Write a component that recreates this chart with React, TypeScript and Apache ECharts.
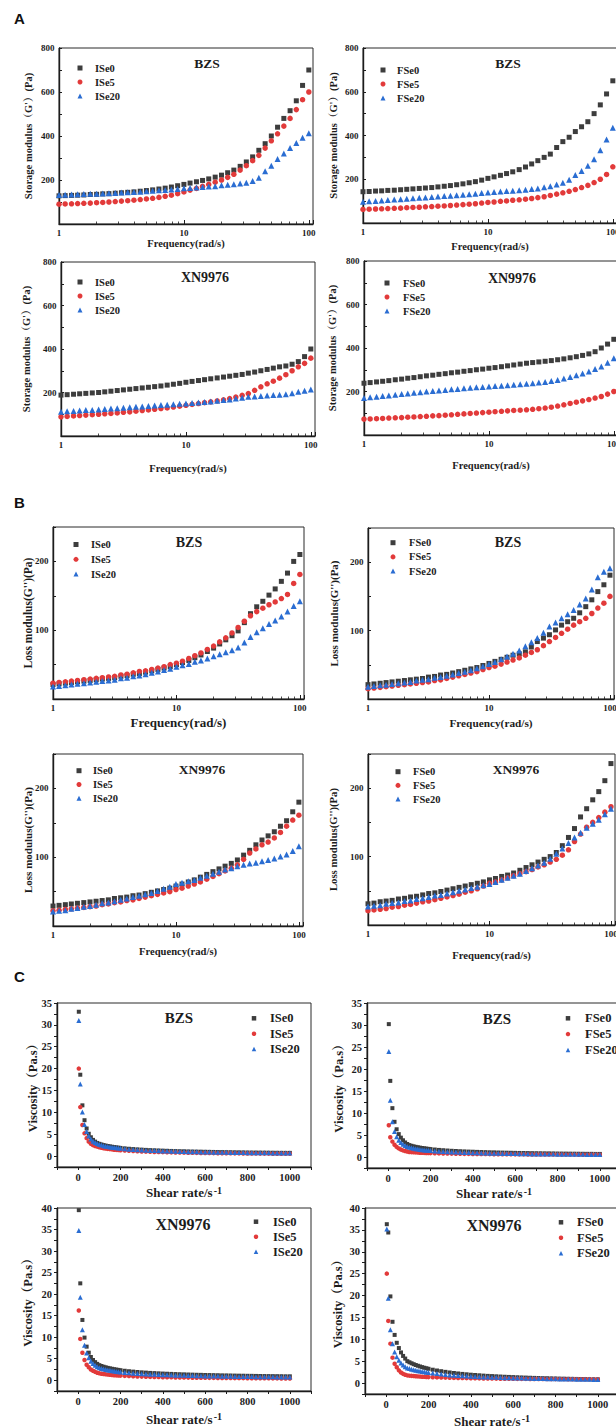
import React, { useEffect, useRef } from 'react';
import * as echarts from 'echarts';

// ---------------- data ----------------
// angular frequency sweep (rad/s), panels A and B
const FREQ = [1, 1.12, 1.26, 1.41, 1.58, 1.78, 2, 2.24, 2.51, 2.82, 3.16, 3.55, 3.98, 4.47, 5.01, 5.62, 6.31, 7.08, 7.94, 8.91, 10, 11.2, 12.6, 14.1, 15.8, 17.8, 20, 22.4, 25.1, 28.2, 31.6, 35.5, 39.8, 44.7, 50.1, 56.2, 63.1, 70.8, 79.4, 89.1, 100];

// A: storage modulus G' (Pa)
const A_BZS_ISE0 = [128, 129, 130, 131, 132, 134, 135, 137, 138, 140, 142, 144, 146, 149, 152, 155, 159, 163, 168, 174, 180, 186, 192, 198, 205, 213, 222, 233, 245, 262, 282, 305, 335, 365, 400, 440, 480, 515, 560, 630, 700];
const A_BZS_ISE5 = [90, 91, 92, 93, 94, 95, 97, 98, 100, 102, 104, 106, 108, 111, 114, 117, 121, 126, 131, 138, 146, 154, 162, 171, 180, 190, 200, 212, 226, 245, 265, 288, 312, 345, 378, 410, 445, 480, 520, 565, 600];
const A_BZS_ISE20 = [132, 133, 134, 135, 136, 137, 138, 139, 140, 141, 143, 144, 146, 147, 149, 151, 153, 155, 157, 159, 162, 164, 166, 168, 170, 172, 176, 178, 181, 184, 188, 196, 210, 240, 265, 295, 320, 345, 368, 392, 412];
const A_BZS_FSE0 = [143, 144, 146, 147, 149, 150, 152, 154, 156, 158, 160, 162, 165, 168, 171, 175, 179, 184, 189, 196, 204, 211, 218, 226, 234, 244, 256, 270, 285, 300, 315, 345, 372, 392, 418, 440, 463, 500, 540, 590, 650];
const A_BZS_FSE5 = [62, 63, 64, 65, 66, 67, 68, 70, 71, 72, 74, 75, 77, 78, 80, 82, 84, 86, 88, 91, 94, 96, 99, 101, 104, 106, 109, 112, 116, 120, 126, 132, 138, 145, 153, 162, 172, 185, 200, 222, 257];
const A_BZS_FSE20 = [97, 99, 101, 103, 105, 107, 109, 111, 113, 115, 117, 119, 121, 123, 125, 127, 129, 131, 134, 137, 140, 142, 144, 146, 148, 150, 152, 155, 158, 163, 168, 176, 184, 198, 220, 238, 262, 292, 333, 382, 435];
const A_XN_ISE0 = [188, 190, 192, 194, 196, 198, 200, 203, 206, 209, 212, 215, 218, 221, 224, 227, 230, 234, 238, 242, 247, 251, 255, 259, 263, 267, 271, 275, 279, 283, 289, 294, 300, 306, 312, 318, 322, 330, 342, 365, 400];
const A_XN_ISE5 = [88, 90, 92, 94, 96, 98, 100, 102, 104, 106, 109, 111, 114, 117, 120, 123, 126, 129, 133, 137, 141, 145, 149, 153, 157, 161, 166, 172, 179, 187, 195, 210, 226, 240, 252, 266, 282, 300, 318, 334, 358];
const A_XN_ISE20 = [112, 114, 115, 117, 119, 120, 122, 124, 126, 128, 130, 132, 134, 136, 138, 140, 142, 144, 146, 148, 150, 152, 154, 156, 159, 162, 165, 168, 172, 176, 180, 182, 184, 186, 188, 190, 192, 197, 203, 208, 214];
const A_XN_FSE0 = [238, 241, 244, 247, 250, 254, 257, 261, 264, 268, 272, 275, 279, 282, 286, 289, 293, 296, 300, 303, 307, 310, 314, 318, 322, 326, 330, 333, 336, 339, 342, 346, 350, 355, 360, 366, 373, 383, 400, 418, 440];
const A_XN_FSE5 = [73, 74, 75, 76, 78, 79, 80, 82, 83, 85, 86, 88, 89, 91, 93, 95, 97, 99, 101, 103, 105, 107, 109, 111, 113, 114, 116, 118, 121, 124, 128, 133, 139, 145, 151, 157, 163, 170, 177, 188, 200];
const A_XN_FSE20 = [170, 173, 176, 179, 182, 185, 188, 191, 194, 197, 200, 202, 205, 207, 210, 212, 215, 217, 219, 221, 223, 225, 227, 229, 231, 233, 236, 238, 241, 244, 248, 253, 260, 267, 275, 283, 292, 303, 315, 332, 353];

// B: loss modulus G'' (Pa)
const B_BZS_ISE0 = [21, 22, 23, 24, 25, 26, 27, 28, 29, 30, 31, 33, 34, 36, 37, 39, 41, 43, 45, 47, 50, 53, 56, 60, 64, 69, 74, 80, 86, 92, 99, 111, 124, 134, 142, 151, 160, 171, 183, 200, 210];
const B_BZS_ISE5 = [23, 24, 25, 26, 27, 28, 29, 30, 31, 32, 33, 35, 36, 38, 40, 41, 43, 45, 47, 50, 52, 55, 59, 63, 67, 72, 77, 83, 89, 96, 104, 113, 121, 127, 132, 137, 141, 146, 152, 168, 181];
const B_BZS_ISE20 = [18, 19, 20, 21, 22, 23, 24, 25, 26, 27, 28, 30, 31, 33, 34, 36, 38, 40, 42, 44, 47, 49, 51, 54, 56, 59, 62, 65, 68, 71, 75, 82, 90, 97, 103, 109, 114, 120, 127, 135, 142];
const B_BZS_FSE0 = [21, 22, 23, 24, 25, 26, 27, 28, 29, 30, 32, 33, 35, 36, 38, 40, 42, 44, 46, 49, 52, 55, 58, 61, 64, 66, 69, 76, 84, 89, 94, 101, 108, 113, 118, 126, 135, 145, 157, 167, 181];
const B_BZS_FSE5 = [15, 16, 17, 18, 19, 20, 21, 22, 23, 24, 25, 27, 28, 30, 32, 34, 36, 38, 40, 43, 46, 48, 51, 54, 57, 60, 64, 68, 72, 78, 84, 90, 96, 102, 108, 113, 118, 125, 133, 140, 150];
const B_BZS_FSE20 = [18, 19, 20, 21, 22, 23, 24, 25, 27, 28, 29, 31, 32, 34, 36, 38, 40, 42, 45, 48, 51, 54, 58, 62, 66, 71, 77, 83, 89, 97, 106, 112, 118, 124, 130, 138, 147, 160, 178, 186, 191];
const B_XN_ISE0 = [29, 30, 31, 32, 33, 34, 35, 36, 37, 38, 40, 41, 42, 44, 45, 47, 49, 51, 53, 55, 58, 61, 64, 67, 71, 75, 79, 83, 87, 91, 96, 103, 110, 118, 125, 131, 137, 145, 153, 166, 180];
const B_XN_ISE5 = [22, 23, 24, 25, 26, 27, 28, 29, 31, 32, 34, 35, 37, 38, 40, 42, 44, 46, 48, 50, 53, 55, 58, 61, 64, 68, 72, 76, 80, 84, 89, 97, 106, 112, 118, 122, 128, 136, 145, 154, 161];
const B_XN_ISE20 = [21, 22, 23, 25, 26, 28, 29, 31, 33, 34, 36, 38, 40, 42, 44, 46, 48, 51, 54, 57, 61, 63, 65, 67, 70, 73, 76, 79, 82, 84, 87, 89, 91, 92, 94, 96, 98, 101, 104, 109, 116];
const B_XN_FSE0 = [31, 32, 34, 35, 36, 38, 39, 41, 42, 44, 46, 47, 49, 51, 53, 55, 57, 59, 61, 63, 66, 68, 71, 73, 76, 80, 84, 88, 92, 96, 100, 106, 116, 128, 141, 158, 170, 183, 195, 211, 236];
const B_XN_FSE5 = [21, 22, 23, 24, 26, 27, 29, 30, 32, 34, 35, 37, 39, 41, 43, 45, 48, 50, 53, 57, 61, 63, 66, 69, 72, 75, 78, 81, 85, 88, 92, 96, 102, 110, 122, 133, 143, 150, 157, 165, 173];
const B_XN_FSE20 = [27, 28, 29, 31, 32, 33, 35, 36, 38, 39, 41, 43, 44, 46, 48, 50, 52, 54, 56, 58, 60, 63, 66, 69, 72, 75, 79, 83, 87, 91, 97, 104, 112, 120, 128, 135, 142, 148, 154, 162, 170];

// C: viscosity (Pa.s) vs shear rate (1/s)
const SHEAR = [3, 10, 20, 30, 40, 50, 60, 70, 80, 90, 100, 110, 120, 130, 140, 150, 160, 170, 180, 190, 200, 220, 240, 260, 280, 300, 320, 340, 360, 380, 400, 420, 440, 460, 480, 500, 520, 540, 560, 580, 600, 620, 640, 660, 680, 700, 720, 740, 760, 780, 800, 820, 840, 860, 880, 900, 920, 940, 960, 980, 1000];
const C_BZS_ISE0 = [33, 18.6, 11.6, 8.2, 6.3, 5.1, 4.3, 3.7, 3.3, 3.0, 2.8, 2.65, 2.51, 2.40, 2.30, 2.21, 2.13, 2.05, 1.98, 1.92, 1.86, 1.76, 1.67, 1.60, 1.53, 1.47, 1.41, 1.36, 1.32, 1.28, 1.24, 1.20, 1.17, 1.14, 1.11, 1.09, 1.06, 1.04, 1.02, 1.00, 0.98, 0.96, 0.94, 0.92, 0.91, 0.89, 0.88, 0.86, 0.85, 0.84, 0.82, 0.81, 0.80, 0.79, 0.78, 0.77, 0.76, 0.75, 0.74, 0.73, 0.73];
const C_BZS_ISE5 = [20, 11.2, 7.1, 5.2, 4.1, 3.3, 2.8, 2.5, 2.3, 2.15, 2.0, 1.89, 1.80, 1.71, 1.64, 1.58, 1.52, 1.46, 1.42, 1.37, 1.33, 1.26, 1.20, 1.14, 1.09, 1.05, 1.01, 0.97, 0.94, 0.91, 0.89, 0.86, 0.84, 0.82, 0.80, 0.78, 0.76, 0.74, 0.73, 0.71, 0.70, 0.68, 0.67, 0.66, 0.65, 0.64, 0.63, 0.62, 0.61, 0.60, 0.59, 0.58, 0.57, 0.56, 0.56, 0.55, 0.54, 0.54, 0.53, 0.52, 0.52];
const C_BZS_ISE20 = [31, 16.5, 10.1, 7.2, 5.6, 4.6, 3.9, 3.4, 3.1, 2.85, 2.65, 2.51, 2.38, 2.27, 2.17, 2.09, 2.01, 1.94, 1.88, 1.82, 1.76, 1.67, 1.58, 1.51, 1.45, 1.39, 1.34, 1.29, 1.25, 1.21, 1.17, 1.14, 1.11, 1.08, 1.05, 1.03, 1.00, 0.98, 0.96, 0.94, 0.92, 0.91, 0.89, 0.87, 0.86, 0.85, 0.83, 0.82, 0.80, 0.79, 0.78, 0.77, 0.76, 0.75, 0.74, 0.73, 0.72, 0.71, 0.70, 0.69, 0.69];
const C_BZS_FSE0 = [30.2, 17.3, 11.1, 8.0, 6.3, 5.2, 4.4, 3.8, 3.3, 2.95, 2.7, 2.55, 2.42, 2.31, 2.21, 2.13, 2.05, 1.98, 1.91, 1.85, 1.80, 1.70, 1.61, 1.54, 1.47, 1.41, 1.36, 1.31, 1.27, 1.23, 1.20, 1.16, 1.13, 1.10, 1.07, 1.05, 1.02, 1.00, 0.98, 0.96, 0.94, 0.92, 0.91, 0.89, 0.87, 0.86, 0.85, 0.83, 0.82, 0.81, 0.79, 0.78, 0.77, 0.76, 0.75, 0.74, 0.73, 0.72, 0.72, 0.70, 0.70];
const C_BZS_FSE5 = [7.2, 4.5, 3.5, 2.8, 2.3, 1.95, 1.7, 1.5, 1.35, 1.25, 1.15, 1.11, 1.07, 1.04, 1.01, 0.98, 0.96, 0.94, 0.92, 0.90, 0.88, 0.85, 0.82, 0.80, 0.78, 0.76, 0.74, 0.73, 0.71, 0.70, 0.69, 0.68, 0.67, 0.66, 0.65, 0.64, 0.63, 0.62, 0.62, 0.61, 0.60, 0.60, 0.59, 0.58, 0.58, 0.57, 0.57, 0.56, 0.56, 0.55, 0.55, 0.54, 0.54, 0.53, 0.53, 0.52, 0.52, 0.51, 0.51, 0.50, 0.50];
const C_BZS_FSE20 = [24, 12.9, 8.0, 5.8, 4.6, 3.8, 3.3, 2.9, 2.6, 2.4, 2.2, 2.08, 1.98, 1.89, 1.80, 1.73, 1.67, 1.61, 1.56, 1.51, 1.46, 1.38, 1.32, 1.25, 1.20, 1.15, 1.11, 1.07, 1.04, 1.00, 0.97, 0.95, 0.92, 0.90, 0.88, 0.85, 0.83, 0.82, 0.80, 0.78, 0.77, 0.75, 0.74, 0.73, 0.71, 0.70, 0.69, 0.68, 0.67, 0.66, 0.65, 0.64, 0.63, 0.62, 0.61, 0.61, 0.60, 0.59, 0.58, 0.57, 0.57];
const C_XN_ISE0 = [39.5, 22.5, 14.0, 9.9, 7.8, 6.4, 5.4, 4.7, 4.2, 3.8, 3.5, 3.31, 3.14, 3.00, 2.87, 2.76, 2.66, 2.56, 2.48, 2.40, 2.33, 2.20, 2.09, 2.00, 1.91, 1.83, 1.77, 1.70, 1.65, 1.60, 1.55, 1.51, 1.47, 1.43, 1.39, 1.36, 1.33, 1.30, 1.27, 1.25, 1.22, 1.20, 1.18, 1.16, 1.13, 1.12, 1.10, 1.08, 1.06, 1.05, 1.03, 1.02, 1.00, 0.99, 0.97, 0.96, 0.95, 0.94, 0.93, 0.91, 0.91];
const C_XN_ISE5 = [16.2, 9.6, 6.4, 4.7, 3.6, 3.0, 2.5, 2.2, 1.95, 1.75, 1.6, 1.51, 1.44, 1.37, 1.31, 1.26, 1.21, 1.17, 1.13, 1.10, 1.06, 1.01, 0.96, 0.91, 0.87, 0.84, 0.81, 0.78, 0.75, 0.73, 0.71, 0.69, 0.67, 0.65, 0.64, 0.62, 0.61, 0.59, 0.58, 0.57, 0.56, 0.55, 0.54, 0.53, 0.52, 0.51, 0.50, 0.49, 0.48, 0.48, 0.47, 0.46, 0.46, 0.45, 0.44, 0.44, 0.43, 0.43, 0.42, 0.42, 0.41];
const C_XN_ISE20 = [34.8, 19.3, 11.7, 8.1, 6.3, 5.2, 4.4, 3.9, 3.5, 3.15, 2.9, 2.74, 2.60, 2.49, 2.38, 2.29, 2.20, 2.12, 2.05, 1.99, 1.93, 1.82, 1.73, 1.65, 1.58, 1.52, 1.46, 1.41, 1.37, 1.32, 1.28, 1.25, 1.22, 1.18, 1.15, 1.13, 1.10, 1.08, 1.05, 1.03, 1.01, 0.99, 0.97, 0.96, 0.94, 0.93, 0.91, 0.89, 0.88, 0.87, 0.85, 0.84, 0.83, 0.82, 0.81, 0.80, 0.79, 0.78, 0.77, 0.76, 0.75];
const C_XN_FSE0 = [36.3, 34.4, 19.8, 14.0, 11.0, 9.2, 8.0, 7.0, 6.2, 5.6, 5.0, 4.75, 4.52, 4.31, 4.12, 3.95, 3.79, 3.64, 3.50, 3.38, 3.26, 3.05, 2.87, 2.71, 2.56, 2.42, 2.30, 2.19, 2.09, 2.00, 1.91, 1.84, 1.77, 1.70, 1.64, 1.59, 1.54, 1.49, 1.44, 1.40, 1.36, 1.32, 1.28, 1.25, 1.21, 1.18, 1.15, 1.12, 1.10, 1.07, 1.05, 1.02, 1.00, 0.98, 0.96, 0.94, 0.92, 0.90, 0.88, 0.86, 0.85];
const C_XN_FSE5 = [25, 14.2, 9.0, 5.8, 4.4, 3.6, 2.9, 2.4, 2.1, 1.9, 1.75, 1.69, 1.64, 1.60, 1.56, 1.52, 1.48, 1.45, 1.42, 1.39, 1.36, 1.32, 1.29, 1.26, 1.23, 1.20, 1.18, 1.16, 1.14, 1.12, 1.10, 1.08, 1.07, 1.05, 1.04, 1.02, 1.01, 1.00, 0.99, 0.98, 0.97, 0.96, 0.95, 0.95, 0.94, 0.93, 0.92, 0.92, 0.91, 0.90, 0.90, 0.89, 0.89, 0.88, 0.88, 0.87, 0.87, 0.86, 0.86, 0.85, 0.85];
const C_XN_FSE20 = [35.2, 19.4, 12.2, 9.0, 7.1, 6.0, 5.2, 4.6, 4.1, 3.75, 3.45, 3.30, 3.16, 3.04, 2.93, 2.82, 2.73, 2.64, 2.56, 2.48, 2.41, 2.28, 2.16, 2.05, 1.95, 1.86, 1.78, 1.71, 1.65, 1.60, 1.55, 1.50, 1.46, 1.41, 1.37, 1.33, 1.30, 1.27, 1.24, 1.21, 1.18, 1.15, 1.13, 1.11, 1.08, 1.06, 1.04, 1.02, 1.00, 0.98, 0.96, 0.95, 0.93, 0.92, 0.90, 0.89, 0.87, 0.86, 0.85, 0.83, 0.82];

// ---------------- styling / layout ----------------
const SERIF = "'Liberation Serif','Times New Roman','Noto Serif CJK SC','Noto Sans CJK SC',serif";
const SANS = "'Liberation Sans',Arial,sans-serif";
const INK = '#1c1c1c';
const COLORS = ['#3d3d3d', '#e23a3a', '#2a6dd2'];
const SYMBOLS = ['rect', 'circle', 'triangle'];

const PANELS: any[] = [
  { kind: 'A', x: 59, y: 48, w: 254, h: 176, prefix: 'ISe', data: [A_BZS_ISE0, A_BZS_ISE5, A_BZS_ISE20], title: 'BZS', tx: 207, ty: 63, ts: 13.5, lg: { mx: 80, tx: 95, y0: 68, p: 14, fs: 10.5 }, xGap: 14.5, yGap: 25.5, xns: 10.5, yns: 10.5 },
  { kind: 'A', x: 363, y: 48, w: 254, h: 175, prefix: 'FSe', data: [A_BZS_FSE0, A_BZS_FSE5, A_BZS_FSE20], title: 'BZS', tx: 508, ty: 63, ts: 13.5, lg: { mx: 383, tx: 397, y0: 70, p: 14, fs: 10.5 }, xGap: 18, yGap: 24.5, xns: 10.5, yns: 10.5 },
  { kind: 'A', x: 61, y: 262, w: 254, h: 174, prefix: 'ISe', data: [A_XN_ISE0, A_XN_ISE5, A_XN_ISE20], title: 'XN9976', tx: 205, ty: 277, ts: 14, lg: { mx: 80, tx: 95, y0: 282, p: 14, fs: 10.5 }, xGap: 27, yGap: 29, xns: 10.5, yns: 10.5 },
  { kind: 'A', x: 364, y: 261, w: 254, h: 174, prefix: 'FSe', data: [A_XN_FSE0, A_XN_FSE5, A_XN_FSE20], title: 'XN9976', tx: 512, ty: 278, ts: 14, lg: { mx: 387, tx: 403, y0: 283, p: 14, fs: 10.5 }, xGap: 25.5, yGap: 26, xns: 10.5, yns: 10.5 },
  { kind: 'B', x: 53, y: 527, w: 251, h: 172, prefix: 'ISe', data: [B_BZS_ISE0, B_BZS_ISE5, B_BZS_ISE20], title: 'BZS', tx: 189, ty: 542, ts: 14, lg: { mx: 76, tx: 91, y0: 544.5, p: 14.8, fs: 10.5 }, xGap: 17, yGap: 19, xns: 13, yns: 11.5 },
  { kind: 'B', x: 368, y: 528, w: 246, h: 171, prefix: 'FSe', data: [B_BZS_FSE0, B_BZS_FSE5, B_BZS_FSE20], title: 'BZS', tx: 508, ty: 542, ts: 14, lg: { mx: 393, tx: 409, y0: 542.7, p: 14.2, fs: 10.5 }, xGap: 18.5, yGap: 29, xns: 11.3, yns: 11 },
  { kind: 'B', x: 53, y: 754, w: 250, h: 172, prefix: 'ISe', data: [B_XN_ISE0, B_XN_ISE5, B_XN_ISE20], title: 'XN9976', tx: 202, ty: 769, ts: 13.5, lg: { mx: 79, tx: 93, y0: 770.7, p: 13.8, fs: 10.5 }, xGap: 20.5, yGap: 19.5, xns: 10.6, yns: 11 },
  { kind: 'B', x: 368, y: 754, w: 247, h: 171, prefix: 'FSe', data: [B_XN_FSE0, B_XN_FSE5, B_XN_FSE20], title: 'XN9976', tx: 516, ty: 769, ts: 13.5, lg: { mx: 398, tx: 413, y0: 771.7, p: 13.7, fs: 10.5 }, xGap: 24.5, yGap: 29.5, xns: 10.7, yns: 10.7 },
  { kind: 'C', x: 57, y: 1003, w: 254, h: 164, yMax: 35, prefix: 'ISe', data: [C_BZS_ISE0, C_BZS_ISE5, C_BZS_ISE20], title: 'BZS', tx: 179, ty: 1018, ts: 15, lg: { mx: 254, tx: 270, y0: 1018.3, p: 15.4, fs: 12.5 }, xGap: 18, yGap: 17.5, xns: 13, yns: 12.5 },
  { kind: 'C', x: 367, y: 1003, w: 254, h: 165, yMax: 35, prefix: 'FSe', data: [C_BZS_FSE0, C_BZS_FSE5, C_BZS_FSE20], title: 'BZS', tx: 497, ty: 1019, ts: 15, lg: { mx: 568, tx: 585, y0: 1018.3, p: 15.8, fs: 12.5 }, xGap: 18, yGap: 22, xns: 13, yns: 12.5 },
  { kind: 'C', x: 57, y: 1208, w: 254, h: 183, yMax: 40, prefix: 'ISe', data: [C_XN_ISE0, C_XN_ISE5, C_XN_ISE20], title: 'XN9976', tx: 183, ty: 1224, ts: 16, lg: { mx: 256, tx: 273, y0: 1221.7, p: 15, fs: 12.5 }, xGap: 20.5, yGap: 22.5, xns: 13, yns: 12.5 },
  { kind: 'C', x: 365, y: 1208, w: 254, h: 186, yMax: 40, prefix: 'FSe', data: [C_XN_FSE0, C_XN_FSE5, C_XN_FSE20], title: 'XN9976', tx: 494, ty: 1225, ts: 16, lg: { mx: 561, tx: 577, y0: 1222.3, p: 15.5, fs: 12.5 }, xGap: 19.5, yGap: 21, xns: 13, yns: 12.5 },
];

const LETTERS = [
  { t: 'A', x: 14, y: 18.5 },
  { t: 'B', x: 14, y: 502.5 },
  { t: 'C', x: 14, y: 976 },
];

function buildOption() {
  const grid: any[] = [];
  const xAxis: any[] = [];
  const yAxis: any[] = [];
  const series: any[] = [];
  const legend: any[] = [];
  const graphic: any[] = [];

  PANELS.forEach((p, k) => {
    const isC = p.kind === 'C';
    grid.push({
      left: p.x, top: p.y, width: p.w, height: p.h,
      show: true, borderColor: '#2a2a2a', borderWidth: 1, backgroundColor: 'rgba(0,0,0,0)',
      containLabel: false, outerBoundsMode: 'none',
    });
    const line = { show: true, onZero: false, lineStyle: { color: INK, width: 1.4 } };
    const lab = (fs: number, fmt: (v: number) => string) => ({
      show: true, fontFamily: SERIF, fontWeight: 'bold', fontSize: fs, color: INK,
      margin: isC ? 5 : 4.5, formatter: fmt,
    });
    const nameStyle = (fs: number) => ({ fontFamily: SERIF, fontWeight: 'bold', fontSize: fs, color: INK });

    if (isC) {
      xAxis.push({
        type: 'value', gridIndex: k, min: -100, max: 1100, interval: 100,
        axisLine: line,
        axisTick: { show: true, inside: false, length: 3, lineStyle: { color: INK, width: 1 } },
        axisLabel: lab(10.5, (v: number) => (v >= 0 && v <= 1000 && v % 200 === 0 ? String(v) : '')),
        splitLine: { show: false },
        name: 'Shear rate/s{sup|-1}', nameLocation: 'middle', nameGap: p.xGap, nameMoveOverlap: false,
        nameTextStyle: {
          ...nameStyle(p.xns),
          rich: { sup: { fontFamily: SERIF, fontWeight: 'bold', fontSize: 10, color: INK, verticalAlign: 'top', padding: [0, 0, 6, 1] } },
        },
      });
      yAxis.push({
        type: 'value', gridIndex: k, min: -2.5, max: p.yMax, interval: 2.5,
        axisLine: line,
        axisTick: { show: true, inside: false, length: 3, lineStyle: { color: INK, width: 1 } },
        axisLabel: lab(10.5, (v: number) => (v >= 0 && Math.abs(v % 5) < 1e-9 ? String(v) : '')),
        splitLine: { show: false },
        name: 'Viscosity（Pa.s）', nameLocation: 'middle', nameGap: p.yGap, nameMoveOverlap: false,
        nameTextStyle: nameStyle(p.yns),
      });
    } else {
      xAxis.push({
        type: 'log', logBase: 10, gridIndex: k, min: 1, max: 108,
        axisLine: line,
        axisTick: { show: true, inside: true, length: 4, lineStyle: { color: INK, width: 1 } },
        minorTick: { show: true, splitNumber: 9, length: 2.5, lineStyle: { color: INK, width: 0.8 } },
        axisLabel: lab(9, (v: number) => (v === 1 || v === 10 || v === 100 ? String(v) : '')),
        splitLine: { show: false }, minorSplitLine: { show: false },
        name: 'Frequency(rad/s)', nameLocation: 'middle', nameGap: p.xGap, nameMoveOverlap: false,
        nameTextStyle: nameStyle(p.xns),
      });
      const isA = p.kind === 'A';
      yAxis.push({
        type: 'value', gridIndex: k, min: 0, max: isA ? 800 : 250, interval: isA ? 100 : 50,
        axisLine: line,
        axisTick: { show: true, inside: true, length: 3, lineStyle: { color: INK, width: 1 } },
        axisLabel: lab(9, isA
          ? (v: number) => (v > 0 && v % 200 === 0 ? String(v) : '')
          : (v: number) => (v === 100 || v === 200 ? String(v) : '')),
        splitLine: { show: false },
        name: isA ? "Storage modulus（G'）(Pa)" : "Loss modulus(G'')(Pa)",
        nameLocation: 'middle', nameGap: p.yGap, nameMoveOverlap: false,
        nameTextStyle: nameStyle(p.yns),
      });
    }

    const names = [p.prefix + '0', p.prefix + '5', p.prefix + '20'];
    const sizes = isC ? [4, 4.5, 5] : [5, 5.5, 6];
    const xs = isC ? SHEAR : FREQ;
    p.data.forEach((vals: number[], j: number) => {
      series.push({
        type: 'scatter', name: names[j], xAxisIndex: k, yAxisIndex: k,
        data: xs.map((x: number, i: number) => [x, vals[i]]),
        symbol: SYMBOLS[j], symbolSize: sizes[j],
        itemStyle: { color: COLORS[j], opacity: 1, borderWidth: 0 },
        clip: false, silent: true, z: 2 + j,
        emphasis: { disabled: true },
      });
    });

    const s = isC ? 4.5 : 5;
    legend.push({
      orient: 'vertical', left: p.lg.mx - s / 2, top: p.lg.y0 - p.lg.p / 2,
      padding: 0, itemGap: 0, itemWidth: s, itemHeight: s, selectedMode: false,
      itemStyle: { borderWidth: 0 },
      data: names.map((n, j) => ({ name: n, icon: SYMBOLS[j] })),
      textStyle: {
        fontFamily: SERIF, fontWeight: 'bold', fontSize: p.lg.fs, color: INK,
        lineHeight: p.lg.p, padding: [0, 0, 0, p.lg.tx - (p.lg.mx + s / 2 + 5)],
      },
    });

    graphic.push({
      type: 'text', x: p.tx, y: p.ty, silent: true, z: 10,
      style: {
        text: p.title, fill: INK, fontFamily: SERIF, fontWeight: 'bold', fontSize: p.ts,
        align: 'center', verticalAlign: 'middle', textAlign: 'center', textVerticalAlign: 'middle',
      },
    });
  });

  LETTERS.forEach((l) => {
    graphic.push({
      type: 'text', x: l.x, y: l.y, silent: true, z: 10,
      style: {
        text: l.t, fill: '#111', fontFamily: SANS, fontWeight: 'bold', fontSize: 15,
        align: 'left', verticalAlign: 'middle', textAlign: 'left', textVerticalAlign: 'middle',
      },
    });
  });

  return {
    animation: false,
    backgroundColor: '#ffffff',
    tooltip: { show: false },
    grid, xAxis, yAxis, series, legend, graphic,
  };
}

export default function App() {
  const ref = useRef<HTMLDivElement>(null);
  useEffect(() => {
    document.body.style.margin = '0';
    const chart = echarts.init(ref.current as HTMLDivElement, null, { renderer: 'svg', width: 616, height: 1428 });
    chart.setOption(buildOption() as any);
    return () => chart.dispose();
  }, []);
  return <div ref={ref} style={{ width: 616, height: 1428, background: '#fff' }} />;
}
